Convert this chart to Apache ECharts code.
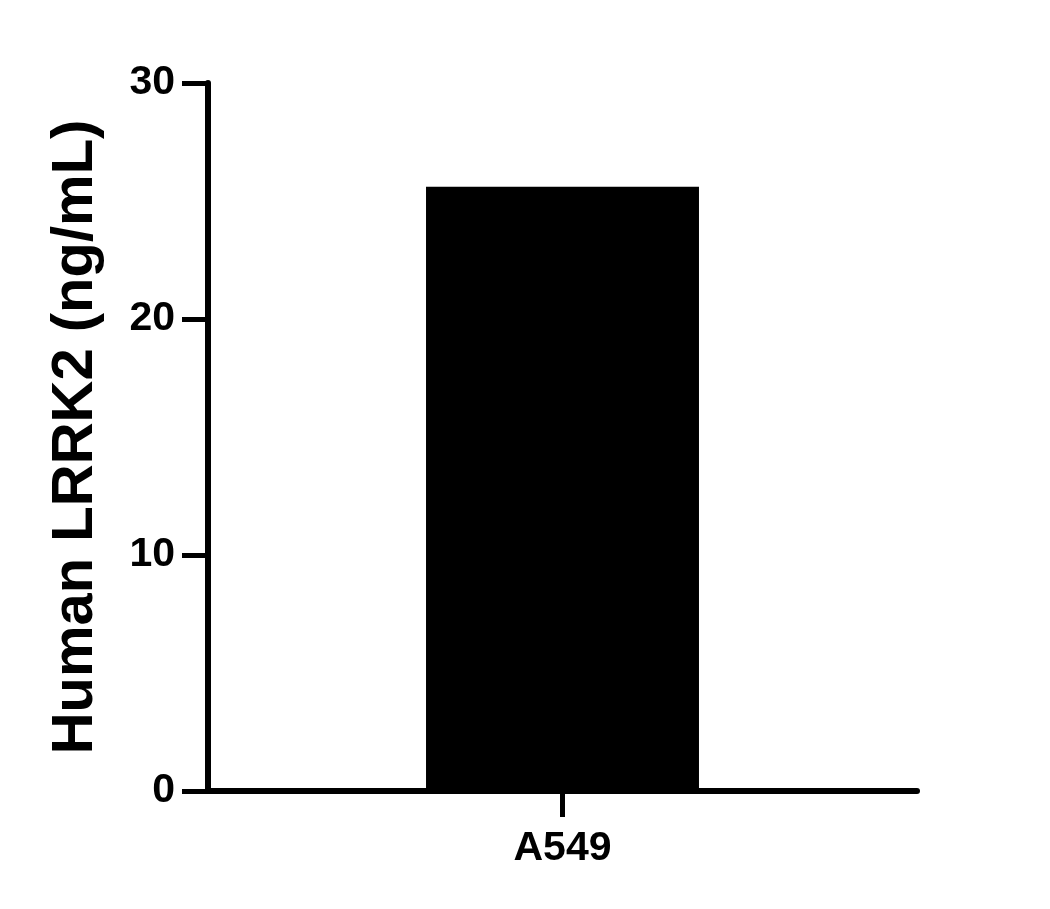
<!DOCTYPE html>
<html>
<head>
<meta charset="utf-8">
<script src="https://cdn.jsdelivr.net/npm/echarts@6/dist/echarts.min.js"></script>
<style>
html,body{margin:0;padding:0;background:#fff;}
#chart{width:1050px;height:909px;}
</style>
</head>
<body>
<div id="chart"></div>
<script>
const categories = ['A549'];
const values = [25.6];
const yTicks = [0, 10, 20, 30];
const yTitle = 'Human LRRK2 (ng/mL)';

const font = 'Liberation Sans, Arial, Helvetica, sans-serif';
const chart = echarts.init(document.getElementById('chart'));
chart.setOption({
  backgroundColor: '#fff',
  animation: false,
  grid: { left: 208, right: 133, top: 83, bottom: 118 },
  xAxis: {
    type: 'category',
    data: categories,
    axisLine: { lineStyle: { color: '#000', width: 6 } },
    axisTick: { show: true, alignWithLabel: true, length: 26, lineStyle: { color: '#000', width: 5 } },
    axisLabel: { color: '#000', fontSize: 41, fontWeight: 'bold', fontFamily: font, margin: 37 }
  },
  yAxis: {
    type: 'value',
    min: yTicks[0],
    max: yTicks[yTicks.length - 1],
    interval: 10,
    name: yTitle,
    nameLocation: 'middle',
    nameGap: 103,
    nameTextStyle: { color: '#000', fontSize: 58, fontWeight: 'bold', fontFamily: font },
    splitLine: { show: false },
    axisLine: { show: true, lineStyle: { color: '#000', width: 6 } },
    axisTick: { show: true, length: 26, lineStyle: { color: '#000', width: 5 } },
    axisLabel: { color: '#000', fontSize: 41, fontWeight: 'bold', fontFamily: font, margin: 33 }
  },
  series: [{
    type: 'bar',
    data: values,
    barWidth: '38.5%',
    itemStyle: { color: '#000' }
  }]
});
</script>
</body>
</html>
